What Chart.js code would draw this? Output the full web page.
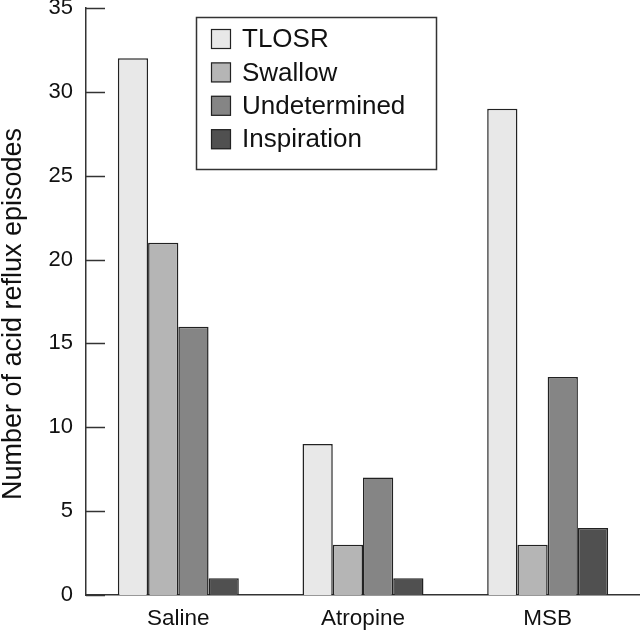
<!DOCTYPE html>
<html>
<head>
<meta charset="utf-8">
<script src="https://cdn.jsdelivr.net/npm/chart.js@4/dist/chart.umd.min.js"></script>
<style>
html,body{margin:0;padding:0;background:#fff;overflow:hidden;}
canvas{display:block;}
</style>
</head>
<body>
<canvas id="c" width="640" height="631"></canvas>
<script>
const categories = ["Saline", "Atropine", "MSB"];
const seriesNames = ["TLOSR", "Swallow", "Undetermined", "Inspiration"];
const tlosr = [32, 9, 29];
const swallow = [21, 3, 3];
const undetermined = [16, 7, 13];
const inspiration = [1, 1, 4];
const yTicks = [0, 5, 10, 15, 20, 25, 30, 35];
const yTitle = "Number of acid reflux episodes";
const fills = ["#e8e8e8", "#b5b5b5", "#858585", "#505050"];
const FONT = "'Liberation Sans', Arial, Helvetica, sans-serif";

const values = [tlosr, swallow, undetermined, inspiration];
const datasets = seriesNames.map((n, i) => ({
  label: n,
  data: values[i],
  backgroundColor: fills[i],
  borderColor: "#222",
  borderWidth: 1.5,
  borderSkipped: "bottom",
  categoryPercentage: 0.655,
  barPercentage: 1.0
}));

const inwardTicks = {
  id: "inwardTicks",
  afterDraw(chart) {
    const ctx = chart.ctx;
    const y = chart.scales.y;
    const left = chart.chartArea.left;
    ctx.save();
    ctx.strokeStyle = "#333";
    ctx.lineWidth = 1.5;
    yTicks.forEach(v => {
      const py = Math.round(y.getPixelForValue(v)) + 0.5;
      ctx.beginPath();
      ctx.moveTo(left, py);
      ctx.lineTo(left + 19, py);
      ctx.stroke();
    });
    // rotated axis title
    ctx.translate(14, 314);
    ctx.rotate(-Math.PI / 2);
    ctx.font = "27px " + FONT;
    ctx.fillStyle = "#111";
    ctx.textAlign = "center";
    ctx.textBaseline = "middle";
    ctx.fillText(yTitle, 0, 0);
    ctx.restore();
  }
};

const boxLegend = {
  id: "boxLegend",
  afterDraw(chart) {
    const ctx = chart.ctx;
    const bx = 196, by = 17, bw = 240, bh = 152;
    ctx.save();
    ctx.fillStyle = "#fff";
    ctx.fillRect(bx, by, bw, bh);
    ctx.strokeStyle = "#333";
    ctx.lineWidth = 1.5;
    ctx.strokeRect(bx + 0.5, by + 0.5, bw, bh);
    ctx.font = "26px " + FONT;
    ctx.textBaseline = "middle";
    ctx.textAlign = "left";
    chart.data.datasets.forEach((ds, i) => {
      const cy = 39 + i * 33.4;
      ctx.fillStyle = ds.backgroundColor;
      ctx.fillRect(211, cy - 10, 20, 20);
      ctx.strokeStyle = "#222";
      ctx.lineWidth = 1.2;
      ctx.strokeRect(211.5, cy - 9.5, 19, 19);
      ctx.fillStyle = "#111";
      ctx.fillText(ds.label, 242, cy + 1);
    });
    ctx.restore();
  }
};

new Chart(document.getElementById("c"), {
  type: "bar",
  data: { labels: categories, datasets: datasets },
  options: {
    responsive: false,
    animation: false,
    devicePixelRatio: 1,
    layout: { padding: { top: 8, right: 0, bottom: 0, left: 0 } },
    plugins: { legend: { display: false }, tooltip: { enabled: false } },
    scales: {
      x: {
        offset: true,
        grid: { display: false, drawTicks: false },
        border: { display: true, color: "#333", width: 1.5 },
        ticks: { color: "#111", font: { family: FONT, size: 22.5 }, padding: 10 },
        afterFit(s) { s.height = 36; }
      },
      y: {
        min: 0, max: 35,
        afterBuildTicks(s) { s.ticks = yTicks.map(v => ({ value: v })); },
        grid: { display: false, drawTicks: false },
        border: { display: true, color: "#333", width: 1.5 },
        ticks: { color: "#111", font: { family: FONT, size: 22 }, padding: 13 },
        title: { display: false },
        afterFit(s) { s.width = 86; s.paddingTop = 0; s.paddingBottom = 0; }
      }
    }
  },
  plugins: [inwardTicks, boxLegend]
});
</script>
</body>
</html>
